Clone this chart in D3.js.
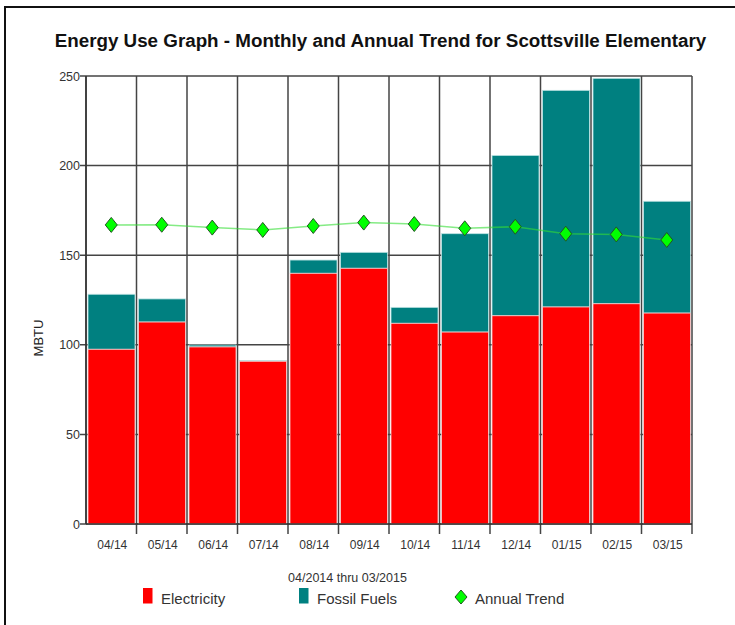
<!DOCTYPE html>
<html><head><meta charset="utf-8">
<script src="https://cdn.jsdelivr.net/npm/d3@7"></script>
<style>body{margin:0;background:#fff;}svg{display:block;font-family:"Liberation Sans",Arial,sans-serif;}</style>
</head><body>
<svg id="chart" width="735" height="625"></svg>
<script>
const months = ["04/14","05/14","06/14","07/14","08/14","09/14","10/14","11/14","12/14","01/15","02/15","03/15"];
const electricity = [97.5,112.7,98.8,90.8,139.9,142.7,112.0,107.1,116.2,121.1,122.9,117.7];
const fossilFuels = [30.7,12.9,1.1,0.4,7.4,8.9,8.9,54.9,89.5,120.9,125.8,62.4];
const annualTrend = [166.9,167.0,165.4,164.1,166.3,168.2,167.4,165.0,165.9,162.0,161.6,158.5];
const yTicks = [0,50,100,150,200,250];
const title = "Energy Use Graph - Monthly and Annual Trend for Scottsville Elementary";
const yLabel = "MBTU";
const subLabel = "04/2014 thru 03/2015";
const legendItems = ["Electricity","Fossil Fuels","Annual Trend"];

const svg = d3.select("#chart");
const m = {left:86, top:76, right:692, bottom:524};
const x = d3.scaleBand().domain(months).range([m.left, m.right]).padding(0);
const y = d3.scaleLinear().domain([0,250]).range([m.bottom, m.top]);

// frame
svg.append("rect").attr("x",5).attr("y",7).attr("width",740).attr("height",640)
  .attr("fill","none").attr("stroke","#111").attr("stroke-width",2);

svg.append("text").attr("x",380.5).attr("y",47).attr("text-anchor","middle")
  .attr("font-size",18.8).attr("font-weight","bold").attr("fill","#111").text(title);

// grid
const grid = svg.append("g").attr("stroke","#444").attr("stroke-width",1.5);
yTicks.forEach(t => {
  grid.append("line").attr("x1",m.left-6).attr("x2",m.right).attr("y1",y(t)).attr("y2",y(t));
});
const bounds = months.map(d => x(d)).concat([m.right]);
bounds.forEach((b,i) => {
  grid.append("line").attr("x1",b).attr("x2",b).attr("y1",m.top)
    .attr("y2", i===0 ? m.bottom : m.bottom+10);
});

// bars
const data = months.map((mo,i)=>({mo, e:electricity[i], f:fossilFuels[i], t:annualTrend[i]}));
const bw = x.bandwidth();
const bars = svg.append("g");
bars.selectAll(".f").data(data).join("rect")
  .attr("x",d=>x(d.mo)+2).attr("width",bw-3.5)
  .attr("y",d=>y(d.e+d.f)).attr("height",d=>y(d.e)-y(d.e+d.f))
  .attr("fill","#008080").attr("stroke","#bfe3e3").attr("stroke-width",0.8);
bars.selectAll(".e").data(data).join("rect")
  .attr("x",d=>x(d.mo)+2).attr("width",bw-3.5)
  .attr("y",d=>y(d.e)).attr("height",d=>y(0)-y(d.e))
  .attr("fill","#ff0000").attr("stroke","#f0d0d0").attr("stroke-width",0.8);

// axes lines
svg.append("line").attr("x1",m.left).attr("x2",m.right).attr("y1",m.bottom).attr("y2",m.bottom)
  .attr("stroke","#333").attr("stroke-width",1.5);
svg.append("line").attr("x1",m.left).attr("x2",m.left).attr("y1",m.top).attr("y2",m.bottom)
  .attr("stroke","#333").attr("stroke-width",1.5);

// y tick labels
svg.append("g").selectAll("text").data(yTicks).join("text")
  .attr("x",m.left-6).attr("y",d=>y(d)+4.5).attr("text-anchor","end")
  .attr("font-size",12.5).attr("fill","#333").text(d=>d);

// x tick labels
svg.append("g").selectAll("text").data(months).join("text")
  .attr("x",d=>x(d)+bw/2+1).attr("y",549).attr("text-anchor","middle")
  .attr("font-size",12).attr("fill","#333").text(d=>d);

// y label
svg.append("text").attr("transform","translate(43,338) rotate(-90)").attr("text-anchor","middle")
  .attr("font-size",13).attr("fill","#222").text(yLabel);

// trend line
const line = d3.line().x(d=>x(d.mo)+bw/2).y(d=>y(d.t));
svg.append("path").datum(data).attr("d",line).attr("fill","none")
  .attr("stroke","#33dd33").attr("stroke-opacity",0.6).attr("stroke-width",1.5);
const diamond = "M0,-7.5L6,0L0,7.5L-6,0Z";
svg.append("g").selectAll("path").data(data).join("path")
  .attr("transform",d=>`translate(${x(d.mo)+bw/2},${y(d.t)})`)
  .attr("d",diamond).attr("fill","#00ff00").attr("stroke","#225522").attr("stroke-width",1);

// subtitle
svg.append("text").attr("x",347.5).attr("y",582).attr("text-anchor","middle")
  .attr("font-size",12.5).attr("fill","#333").text(subLabel);

// legend
const lg = svg.append("g");
lg.append("rect").attr("x",143).attr("y",588).attr("width",9.5).attr("height",15.5).attr("fill","#ff0000");
lg.append("text").attr("x",161).attr("y",604).attr("font-size",15).attr("fill","#333").text(legendItems[0]);
lg.append("rect").attr("x",299).attr("y",588).attr("width",9.5).attr("height",15.5).attr("fill","#008080");
lg.append("text").attr("x",317).attr("y",604).attr("font-size",15).attr("fill","#333").text(legendItems[1]);
lg.append("path").attr("transform","translate(461,597)").attr("d","M0,-7L6,0L0,7L-6,0Z")
  .attr("fill","#00ff00").attr("stroke","#225522").attr("stroke-width",1);
lg.append("text").attr("x",475).attr("y",604).attr("font-size",15).attr("fill","#333").text(legendItems[2]);
</script>
</body></html>
